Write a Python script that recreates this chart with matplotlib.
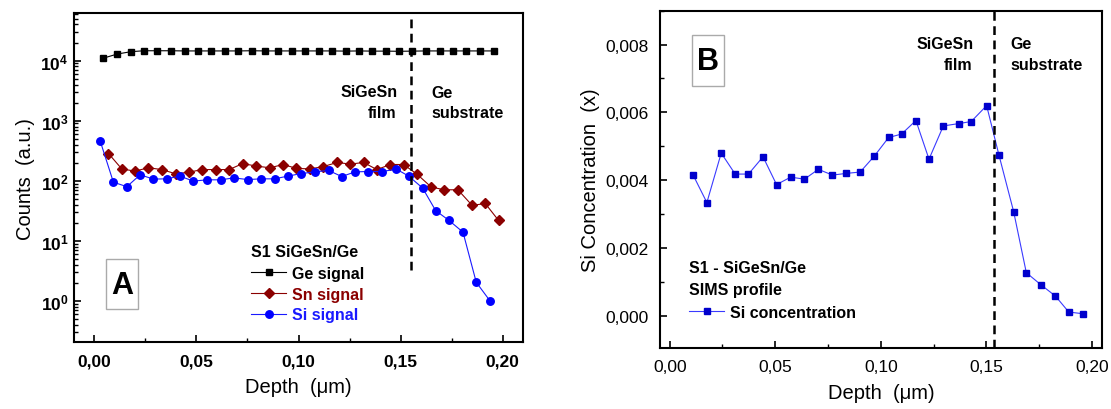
import math
import matplotlib
matplotlib.use("Agg")
import matplotlib.pyplot as plt
from matplotlib.ticker import FuncFormatter, MultipleLocator, LogLocator, FixedLocator, NullFormatter
from matplotlib.patches import Rectangle

plt.rcParams['font.family'] = ['Liberation Sans', 'DejaVu Sans']
plt.rcParams['mathtext.fontset'] = 'custom'
plt.rcParams['mathtext.rm'] = 'Liberation Sans'
plt.rcParams['mathtext.bf'] = 'Liberation Sans:bold'

# ---------------- Data: panel A (SIMS counts) ----------------
ge_x = [0.0044, 0.0113, 0.0180, 0.0243, 0.0308, 0.0377, 0.0442, 0.0507, 0.0572, 0.0638,
        0.0705, 0.0770, 0.0837, 0.0902, 0.0969, 0.1034, 0.1101, 0.1166, 0.1231, 0.1296,
        0.1362, 0.1427, 0.1492, 0.1558, 0.1626, 0.1691, 0.1756, 0.1822, 0.1887, 0.1956]
ge_y = [1.10e4, 1.29e4, 1.41e4, 1.46e4, 1.46e4, 1.46e4, 1.45e4, 1.45e4, 1.45e4, 1.45e4,
        1.45e4, 1.46e4, 1.45e4, 1.45e4, 1.45e4, 1.45e4, 1.45e4, 1.45e4, 1.44e4, 1.45e4,
        1.44e4, 1.44e4, 1.43e4, 1.44e4, 1.45e4, 1.45e4, 1.45e4, 1.45e4, 1.45e4, 1.45e4]

sn_x = [0.0069, 0.0134, 0.0199, 0.0264, 0.0331, 0.0398, 0.0462, 0.0527, 0.0594, 0.0660,
        0.0727, 0.0793, 0.0860, 0.0925, 0.0990, 0.1057, 0.1122, 0.1189, 0.1254, 0.1319,
        0.1384, 0.1450, 0.1515, 0.1582, 0.1650, 0.1714, 0.1781, 0.1851, 0.1915, 0.1980]
sn_y = [285, 158, 145, 165, 154, 131, 139, 154, 154, 154,
        194, 176, 165, 187, 161, 158, 173, 202, 190, 202,
        154, 187, 187, 128, 79, 71, 71, 39, 42, 22]

si_x = [0.0028, 0.0093, 0.0159, 0.0224, 0.0289, 0.0354, 0.0419, 0.0484, 0.0553, 0.0618,
        0.0683, 0.0751, 0.0817, 0.0883, 0.0948, 0.1013, 0.1080, 0.1147, 0.1212, 0.1277,
        0.1342, 0.1408, 0.1480, 0.1540, 0.1608, 0.1672, 0.1737, 0.1806, 0.1871, 0.1939]
si_y = [464, 95, 80, 126, 107, 108, 120, 99, 104, 104,
        112, 105, 108, 108, 120, 132, 141, 149, 118, 141,
        143, 143, 156, 120, 76, 32, 22, 14, 2.05, 1.0]

interface_a = 0.1553

# ---------------- Data: panel B (Si concentration) ----------------
conc_x = [0.0111, 0.0176, 0.0244, 0.0310, 0.0373, 0.0442, 0.0506, 0.0573, 0.0638, 0.0704,
          0.0771, 0.0836, 0.0902, 0.0969, 0.1037, 0.1098, 0.1166, 0.1228, 0.1296, 0.1369,
          0.1428, 0.1501, 0.1559, 0.1629, 0.1689, 0.1757, 0.1827, 0.1890, 0.1957]
conc_y = [0.00415, 0.00334, 0.00480, 0.00418, 0.00418, 0.00469, 0.00387, 0.00409, 0.00403, 0.00432,
          0.00415, 0.00420, 0.00424, 0.00471, 0.00526, 0.00536, 0.00576, 0.00462, 0.00560, 0.00567,
          0.00573, 0.00620, 0.00475, 0.00307, 0.00127, 0.00092, 0.00058, 0.00011, 0.00006]

interface_b = 0.1534

W, H = 1111, 410
fig = plt.figure(figsize=(W / 100, H / 100), dpi=100)

def px_axes(l, t, r, b):
    return fig.add_axes([l / W, 1 - b / H, (r - l) / W, (b - t) / H])

def fx(x):
    return x / W

def fy(y):
    return 1 - y / H

comma2 = FuncFormatter(lambda v, p: f"{v:.2f}".replace('.', ','))
comma3 = FuncFormatter(lambda v, p: f"{v:.3f}".replace('.', ','))

# ================= Panel A =================
axA = px_axes(74, 14, 523, 343.3)
axA.set_yscale('log')
axA.plot(ge_x, ge_y, color='black', lw=0.8, marker='s', ms=4.5, mfc='black', mec='black',
         label='Ge signal')
axA.plot(sn_x, sn_y, color='#8B0000', lw=0.8, marker='D', ms=5.5, mfc='#8B0000', mec='#8B0000',
         label='Sn signal')
axA.plot(si_x, si_y, color='#1a1aff', lw=0.8, marker='o', ms=5.4, mfc='#0000ff', mec='#0000ff',
         label='Si signal')
axA.axvline(interface_a, ymin=(0.522 + 0.686) / (4.79 + 0.686), ymax=1, color='black', lw=1.8,
            ls=(0, (3.5, 2.2)))
axA.set_xlim(-0.01, 0.21)
axA.set_ylim(0.206, 6.2e4)
axA.xaxis.set_major_locator(MultipleLocator(0.05))
axA.xaxis.set_minor_locator(MultipleLocator(0.025))
axA.xaxis.set_major_formatter(comma2)
axA.yaxis.set_major_locator(FixedLocator([1, 10, 100, 1000, 10000]))
axA.yaxis.set_minor_locator(LogLocator(base=10, subs=range(2, 10), numticks=20))
axA.yaxis.set_minor_formatter(NullFormatter())
axA.yaxis.set_major_formatter(FuncFormatter(lambda v, p: r'$\mathbf{10^{%d}}$' % round(math.log10(v))))
axA.tick_params(which='both', direction='in', top=False, right=False)
axA.tick_params(which='major', length=5, width=1.2, labelsize=12.5, pad=8)
axA.tick_params(axis='y', which='major', pad=4)
axA.tick_params(which='minor', length=3, width=1.0)
for lab in axA.get_xticklabels():
    lab.set_fontweight('bold')
for sp in axA.spines.values():
    sp.set_linewidth(1.5)
axA.set_xlabel('Depth  (\u03bcm)', fontsize=14.5, labelpad=6)
axA.set_ylabel('Counts  (a.u.)', fontsize=14.5, labelpad=4)

legA = axA.legend(title='S1 SiGeSn/Ge', loc='upper left', frameon=False,
                  bbox_to_anchor=(fx(251), fy(245)), bbox_transform=fig.transFigure,
                  prop={'weight': 'bold', 'size': 11.5}, labelcolor='linecolor',
                  handlelength=2.2, handletextpad=0.35, labelspacing=0.36,
                  borderpad=0, borderaxespad=0, alignment='left')
legA.get_title().set_fontweight('bold')
legA.get_title().set_fontsize(11.5)
legA._legend_box.sep = 5

fig.text(fx(398), fy(92.7), 'SiGeSn', ha='right', va='center', fontsize=11.5, fontweight='bold')
fig.text(fx(396), fy(113), 'film', ha='right', va='center', fontsize=11.5, fontweight='bold')
fig.text(fx(431), fy(93.5), 'Ge', ha='left', va='center', fontsize=11.5, fontweight='bold')
fig.text(fx(431), fy(114), 'substrate', ha='left', va='center', fontsize=11.5, fontweight='bold')

fig.patches.append(Rectangle((fx(105.7), fy(310)), (138.2 - 105.7) / W, 50 / H,
                             transform=fig.transFigure, fill=False, ec='#aaaaaa', lw=1.0))
fig.text(fx(122), fy(286), 'A', ha='center', va='center', fontsize=22, fontweight='bold')

# ================= Panel B =================
axB = px_axes(660, 11.7, 1101.7, 349.3)
axB.plot(conc_x, conc_y, color='#3a3aff', lw=0.8, marker='s', ms=5, mfc='#0000cc', mec='#0000cc',
         label='Si concentration')
axB.axvline(interface_b, color='black', lw=1.8, ls=(0, (3.5, 2.2)))
axB.set_xlim(-0.0046, 0.2046)
axB.set_ylim(-0.00096, 0.009)
axB.xaxis.set_major_locator(MultipleLocator(0.05))
axB.xaxis.set_minor_locator(MultipleLocator(0.025))
axB.xaxis.set_major_formatter(comma2)
axB.yaxis.set_major_locator(MultipleLocator(0.002))
axB.yaxis.set_minor_locator(MultipleLocator(0.001))
axB.yaxis.set_major_formatter(comma3)
axB.tick_params(which='both', direction='in', top=False, right=False)
axB.tick_params(which='major', length=5, width=1.2, labelsize=12.5, pad=8)
axB.tick_params(which='minor', length=3, width=1.0)
for sp in axB.spines.values():
    sp.set_linewidth(1.5)
axB.set_xlabel('Depth  (\u03bcm)', fontsize=14.5, labelpad=6)
axB.set_ylabel('Si Concentration  (x)', fontsize=14.5, labelpad=4)

legB = axB.legend(title='S1 - SiGeSn/Ge\nSIMS profile', loc='upper left', frameon=False,
                  bbox_to_anchor=(fx(689), fy(261)), bbox_transform=fig.transFigure,
                  prop={'weight': 'bold', 'size': 11.5},
                  handlelength=2.2, handletextpad=0.35, labelspacing=0.36,
                  borderpad=0, borderaxespad=0, alignment='left')
legB.get_title().set_fontweight('bold')
legB.get_title().set_fontsize(11.5)
legB.get_title().set_linespacing(1.55)
legB._legend_box.sep = 6

fig.text(fx(974), fy(44.3), 'SiGeSn', ha='right', va='center', fontsize=11.5, fontweight='bold')
fig.text(fx(972.7), fy(65), 'film', ha='right', va='center', fontsize=11.5, fontweight='bold')
fig.text(fx(1010), fy(44.3), 'Ge', ha='left', va='center', fontsize=11.5, fontweight='bold')
fig.text(fx(1010), fy(65), 'substrate', ha='left', va='center', fontsize=11.5, fontweight='bold')

fig.patches.append(Rectangle((fx(692.3), fy(87.3)), (724 - 692.3) / W, (87.3 - 35.7) / H,
                             transform=fig.transFigure, fill=False, ec='#aaaaaa', lw=1.0))
fig.text(fx(708.2), fy(62), 'B', ha='center', va='center', fontsize=22, fontweight='bold')

fig.savefig('out.png', dpi=100)
